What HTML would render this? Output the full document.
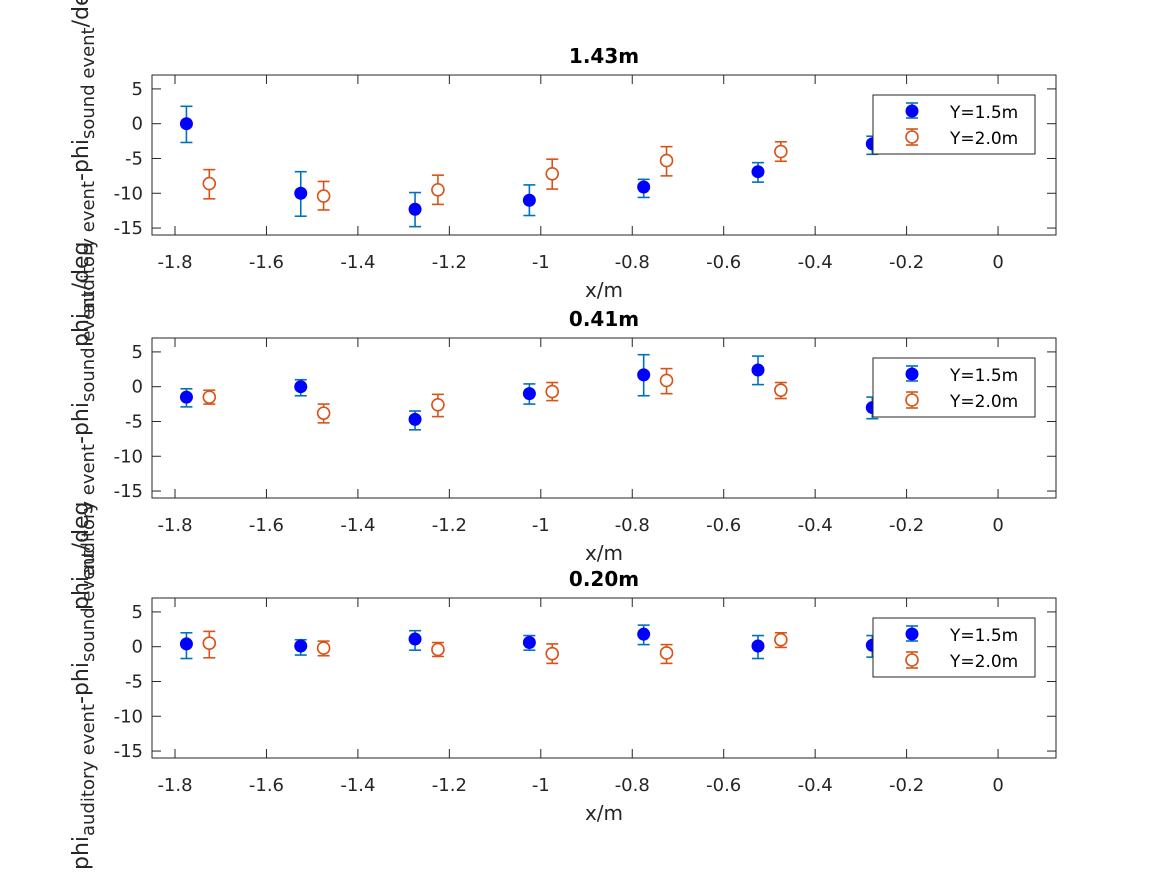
<!DOCTYPE html>
<html><head><meta charset="utf-8"><style>
body{margin:0;background:#fff;}
svg{display:block;font-family:"DejaVu Sans","Liberation Sans",sans-serif;}
</style></head><body>
<svg id="s" width="1167" height="875" xmlns="http://www.w3.org/2000/svg"></svg>
<script>
const S=document.getElementById('s');let h='';
const X0=152,X1=1056;
const fx=v=>175+(v+1.8)/0.2*91.45;
const panels=[
{top:75,title:'1.43m',
 b:[[-1.775,0,2.5,-2.7],[-1.525,-10,-6.9,-13.3],[-1.275,-12.3,-9.9,-14.8],[-1.025,-11,-8.8,-13.2],[-0.775,-9.1,-8.0,-10.6],[-0.525,-6.9,-5.6,-8.4],[-0.275,-2.9,-1.8,-4.4]],
 o:[[-1.725,-8.6,-6.6,-10.8],[-1.475,-10.4,-8.3,-12.4],[-1.225,-9.5,-7.4,-11.6],[-0.975,-7.2,-5.1,-9.4],[-0.725,-5.3,-3.3,-7.5],[-0.475,-4.0,-2.6,-5.4]]},
{top:338,title:'0.41m',
 b:[[-1.775,-1.5,-0.3,-2.9],[-1.525,0,1.0,-1.3],[-1.275,-4.7,-3.5,-6.2],[-1.025,-1.0,0.4,-2.5],[-0.775,1.7,4.6,-1.3],[-0.525,2.4,4.4,0.3],[-0.275,-3,-1.5,-4.6]],
 o:[[-1.725,-1.5,-0.5,-2.5],[-1.475,-3.8,-2.5,-5.2],[-1.225,-2.6,-1.1,-4.3],[-0.975,-0.7,0.6,-2.0],[-0.725,0.9,2.6,-1.0],[-0.475,-0.5,0.6,-1.7]]},
{top:598,title:'0.20m',
 b:[[-1.775,0.4,2.0,-1.7],[-1.525,0.1,1.0,-1.2],[-1.275,1.1,2.3,-0.5],[-1.025,0.6,1.6,-0.5],[-0.775,1.8,3.1,0.3],[-0.525,0.1,1.6,-1.7],[-0.275,0.2,1.6,-1.5]],
 o:[[-1.725,0.5,2.2,-1.6],[-1.475,-0.2,0.8,-1.3],[-1.225,-0.4,0.6,-1.4],[-0.975,-1.0,0.4,-2.4],[-0.725,-0.9,0.3,-2.4],[-0.475,1.0,2.0,-0.1]]}
];
function eb(x,y1,y2,c){return `<line x1="${x}" y1="${y1}" x2="${x}" y2="${y2}" stroke="${c}" stroke-width="1.6"/><line x1="${x-6}" y1="${y1}" x2="${x+6}" y2="${y1}" stroke="${c}" stroke-width="1.6"/><line x1="${x-6}" y1="${y2}" x2="${x+6}" y2="${y2}" stroke="${c}" stroke-width="1.6"/>`;}
for(const p of panels){
 const T=p.top,B=T+160;const fy=v=>T+(7-v)*160/23;
 h+=`<rect x="${X0}" y="${T}" width="${X1-X0}" height="160" fill="#fff" stroke="#262626" stroke-width="1"/>`;
 for(let i=0;i<=9;i++){const v=-1.8+i*0.2,x=fx(v);
  h+=`<line x1="${x}" y1="${B}" x2="${x}" y2="${B-9}" stroke="#262626"/><line x1="${x}" y1="${T}" x2="${x}" y2="${T+9}" stroke="#262626"/>`;
  let l=Math.abs(v)<1e-9?'0':(Math.round(v*10)/10).toString();
  h+=`<text x="${x}" y="${B+33}" font-size="18" fill="#262626" text-anchor="middle">${l}</text>`;}
 for(let v=5;v>=-15;v-=5){const y=fy(v);
  h+=`<line x1="${X0}" y1="${y}" x2="${X0+9}" y2="${y}" stroke="#262626"/><line x1="${X1}" y1="${y}" x2="${X1-9}" y2="${y}" stroke="#262626"/>`;
  h+=`<text x="${X0-9}" y="${y+6}" font-size="18" fill="#262626" text-anchor="end">${v}</text>`;}
 h+=`<text x="604" y="${T-12}" font-size="20" font-weight="bold" text-anchor="middle">${p.title}</text>`;
 h+=`<text x="604" y="${B+62}" font-size="20" fill="#262626" text-anchor="middle">x/m</text>`;
 for(const d of p.o){const x=fx(d[0]);h+=eb(x,fy(d[2]),fy(d[3]),'#D95319')+`<circle cx="${x}" cy="${fy(d[1])}" r="6" fill="#fff" stroke="#D95319" stroke-width="1.6"/>`;}
 for(const d of p.b){const x=fx(d[0]);h+=eb(x,fy(d[2]),fy(d[3]),'#0072BD')+`<circle cx="${x}" cy="${fy(d[1])}" r="6.5" fill="#0000FF"/>`;}
 const L=T+20;
 h+=`<rect x="873" y="${L}" width="162" height="59" fill="#fff" stroke="#262626"/>`;
 h+=eb(912,L+8,L+23,'#0072BD')+`<circle cx="912" cy="${L+16}" r="6.5" fill="#0000FF"/>`;
 h+=eb(912,L+34,L+50,'#D95319')+`<circle cx="912" cy="${L+42}" r="6" fill="#fff" stroke="#D95319" stroke-width="1.6"/>`;
 h+=`<text x="950" y="${L+23}" font-size="17">Y=1.5m</text><text x="950" y="${L+49}" font-size="17">Y=2.0m</text>`;
 h+=`<text transform="translate(88,${T+272}) rotate(-90)" font-size="22" fill="#262626">phi<tspan font-size="18" dy="6">auditory event</tspan><tspan dy="-6">-phi</tspan><tspan font-size="18" dy="6">sound event</tspan><tspan dy="-6">/deg</tspan></text>`;
}
S.innerHTML=h;
</script>
</body></html>
